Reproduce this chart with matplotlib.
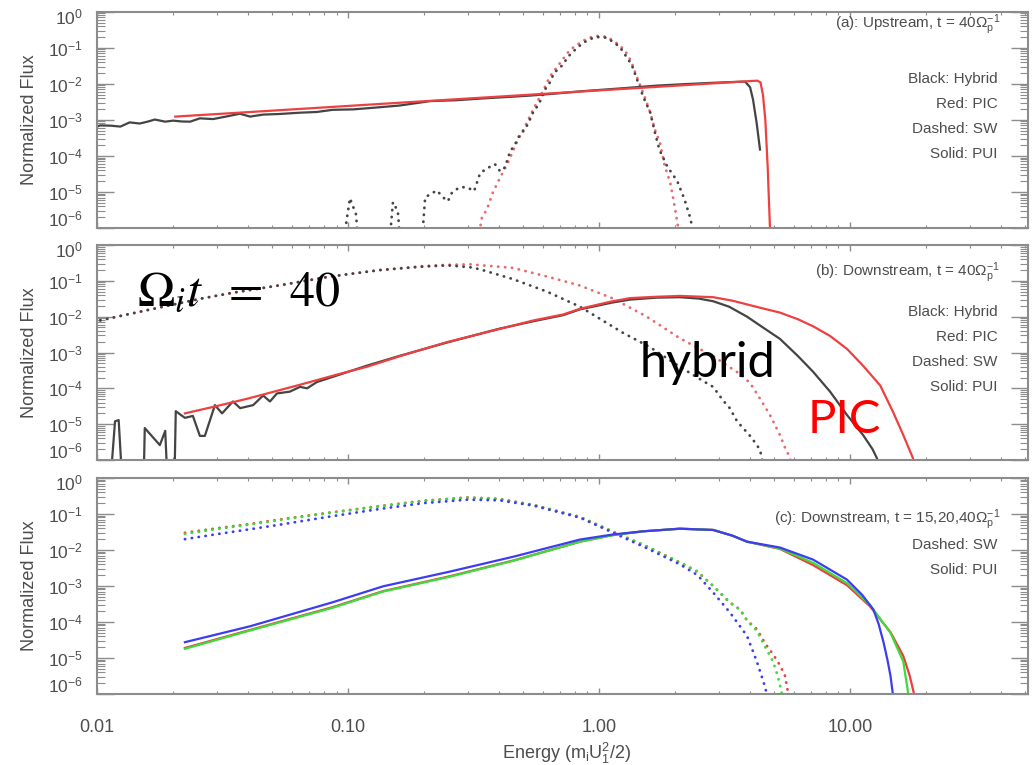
import numpy as np
import matplotlib
matplotlib.use("Agg")
import matplotlib.pyplot as plt
from matplotlib.ticker import LogLocator, FixedLocator, FuncFormatter, NullFormatter
from matplotlib.transforms import ScaledTranslation

plt.rcParams["font.family"] = ["Liberation Sans", "DejaVu Sans"]
plt.rcParams["mathtext.fontset"] = "custom"
plt.rcParams["mathtext.rm"] = "Liberation Sans"
plt.rcParams["mathtext.it"] = "Liberation Sans:italic"
plt.rcParams["mathtext.bf"] = "Liberation Sans:bold"

# =====================================================
# DATA
# =====================================================

# (a) upstream
a_hyb_pui_e = [0.0100, 0.0103, 0.0113, 0.0124, 0.0135, 0.0148, 0.0160, 0.0170, 0.0187,
               0.0201, 0.0218, 0.0235, 0.0257, 0.0290, 0.0330, 0.0371, 0.0407, 0.0460,
               0.0530, 0.0644, 0.0750, 0.0871, 0.105, 0.130, 0.161, 0.212, 0.270, 0.340,
               0.430, 0.531, 0.680, 0.850, 1.05, 1.33, 1.70, 2.20, 2.80, 3.40, 3.82,
               4.00, 4.11, 4.25, 4.38]
a_hyb_pui_f = [6.5e-4, 7.0e-4, 6.9e-4, 6.5e-4, 8.5e-4, 7.9e-4, 9.0e-4, 1.02e-3, 8.9e-4,
               9.5e-4, 9.0e-4, 8.9e-4, 1.10e-3, 1.05e-3, 1.25e-3, 1.48e-3, 1.23e-3, 1.40e-3,
               1.45e-3, 1.58e-3, 1.65e-3, 1.90e-3, 1.95e-3, 2.20e-3, 2.50e-3, 3.30e-3,
               3.50e-3, 3.90e-3, 4.30e-3, 4.70e-3, 5.40e-3, 6.20e-3, 6.90e-3, 7.80e-3,
               8.90e-3, 9.80e-3, 1.06e-2, 1.12e-2, 1.15e-2, 8.0e-3, 3.6e-3, 8.0e-4, 1.5e-4]

a_pic_pui_e = [0.0205, 0.05, 0.1, 0.3, 1.0, 2.5, 4.0, 4.27, 4.40, 4.50, 4.60, 4.70, 4.80, 4.85]
a_pic_pui_f = [1.23e-3, 1.80e-3, 2.43e-3, 3.90e-3, 6.55e-3, 9.70e-3, 1.19e-2, 1.22e-2,
               1.1e-2, 5.0e-3, 1.0e-3, 5.0e-5, 1.0e-6, 1.0e-8]

a_pic_sw_e = [0.330, 0.342, 0.358, 0.378, 0.396, 0.434, 0.471, 0.507, 0.546, 0.593, 0.638,
              0.700, 0.766, 0.840, 0.904, 0.982, 1.077, 1.158, 1.236, 1.306, 1.35, 1.43,
              1.52, 1.60, 1.67, 1.75, 1.83, 1.92, 1.99, 2.05, 2.10]
a_pic_sw_f = [5e-7, 2.0e-6, 3.3e-6, 9.8e-6, 1.9e-5, 6.6e-5, 2.4e-4, 6.5e-4, 1.9e-3, 5.6e-3,
              1.6e-2, 3.8e-2, 8.7e-2, 0.137, 0.187, 0.213, 0.20, 0.146, 0.10, 0.063, 0.038,
              0.013, 4.4e-3, 1.6e-3, 5.4e-4, 2.3e-4, 5.1e-5, 1.9e-5, 5.1e-6, 1.5e-6, 5e-7]

a_hyb_sw_e = [0.093, 0.1018, 0.1076, 0.1117, 0.144, 0.151, 0.158, 0.164, 0.194, 0.203, 0.226,
              0.239, 0.250, 0.260, 0.279, 0.298, 0.318, 0.336, 0.358, 0.385, 0.404, 0.422,
              0.442, 0.463, 0.484, 0.507, 0.526, 0.546, 0.566, 0.587, 0.609, 0.638, 0.662,
              0.719, 0.752, 0.802, 0.863, 0.964, 1.077, 1.21, 1.35, 1.50, 1.60, 1.67, 1.74,
              1.87, 2.05, 2.19, 2.30, 2.35, 2.40]
a_hyb_sw_f = [1e-7, 6.7e-6, 2.4e-6, 1e-7, 1e-7, 5.2e-6, 2.9e-6, 1e-7, 1e-7, 7.1e-6, 1.1e-5,
              7.1e-6, 5.5e-6, 9.8e-6, 1.35e-5, 1.35e-5, 1.05e-5, 3.3e-5, 4.5e-5, 5.9e-5,
              3.7e-5, 4.8e-5, 1.3e-4, 2.1e-4, 3.9e-4, 5.4e-4, 8.9e-4, 1.6e-3, 2.3e-3, 3.6e-3,
              6.9e-3, 1.1e-2, 2.0e-2, 3.4e-2, 5.6e-2, 8.7e-2, 0.137, 0.20, 0.19, 0.106, 0.034,
              4.4e-3, 1.6e-3, 4.5e-4, 1.5e-4, 5.1e-5, 2.0e-5, 6.3e-6, 2.1e-6, 1.1e-6, 5e-7]

# (b) downstream, t = 40
b_hyb_pui_e = [0.0112, 0.0118, 0.0122, 0.0127, 0.0153, 0.0155, 0.0178, 0.0187, 0.0192,
               0.0203, 0.0206, 0.0224, 0.0241, 0.0257, 0.0269, 0.0295, 0.0315, 0.0348,
               0.0372, 0.0419, 0.0459, 0.0489, 0.0521, 0.0587, 0.0644, 0.0687, 0.0752,
               0.0871, 0.119, 0.161, 0.248, 0.400, 0.550, 0.719, 0.840, 1.137, 1.33, 1.70,
               2.10, 2.50, 2.85, 3.30, 3.89, 4.50, 5.26, 6.20, 7.13, 8.33, 9.73, 11.27,
               12.3, 12.82, 13.2]
b_hyb_pui_f = [1e-7, 1.2e-5, 1.3e-5, 1e-7, 1e-7, 7.8e-6, 2.6e-6, 6.5e-6, 1e-7, 1e-7, 2.3e-5,
               1.5e-5, 1.7e-5, 4.7e-6, 4.7e-6, 3.4e-5, 2.0e-5, 4.3e-5, 2.8e-5, 3.4e-5, 6.3e-5,
               4.3e-5, 7.2e-5, 8.1e-5, 1.1e-4, 1.0e-4, 1.5e-4, 2.1e-4, 4.3e-4, 8.1e-4, 1.9e-3,
               4.6e-3, 7.5e-3, 1.1e-2, 1.6e-2, 2.5e-2, 3.0e-2, 3.4e-2, 3.5e-2, 3.2e-2, 2.7e-2,
               1.9e-2, 1.0e-2, 5.0e-3, 2.4e-3, 8.0e-4, 2.9e-4, 8.1e-5, 1.8e-5, 5.0e-6, 2.0e-6,
               1.1e-6, 3e-7]

b_pic_pui_e = [0.0224, 0.030, 0.040, 0.0644, 0.090, 0.119, 0.161, 0.248, 0.400, 0.550,
               0.719, 0.840, 1.106, 1.33, 1.70, 2.10, 2.85, 3.40, 3.89, 4.50, 5.26, 6.20,
               7.13, 8.33, 9.73, 11.27, 13.2, 14.8, 16.3, 17.8, 18.2]
b_pic_pui_f = [2.0e-5, 3.2e-5, 5.2e-5, 1.26e-4, 2.4e-4, 4.0e-4, 7.9e-4, 1.95e-3, 4.5e-3,
               7.9e-3, 1.15e-2, 1.66e-2, 2.6e-2, 3.3e-2, 3.6e-2, 3.8e-2, 3.5e-2, 2.8e-2,
               2.2e-2, 1.7e-2, 1.3e-2, 8.5e-3, 5.4e-3, 2.9e-3, 1.26e-3, 4.3e-4, 1.2e-4,
               2.3e-5, 5.0e-6, 1.15e-6, 1e-7]

b_hyb_sw_e = [0.0103, 0.014, 0.019, 0.026, 0.035, 0.054, 0.085, 0.134, 0.200, 0.250, 0.306,
              0.336, 0.454, 0.621, 0.840, 1.25, 1.60, 2.10, 2.60, 2.85, 3.12, 3.32, 3.55,
              3.75, 4.00, 4.26, 4.38, 4.46, 4.52]
b_hyb_sw_f = [7.9e-3, 1.26e-2, 2.0e-2, 3.2e-2, 4.7e-2, 7.6e-2, 0.132, 0.20, 0.25, 0.27, 0.24,
              0.21, 0.112, 0.050, 1.9e-2, 3.5e-3, 1.4e-3, 4.0e-4, 1.6e-4, 1.1e-4, 4.6e-5,
              2.8e-5, 1.2e-5, 7.8e-6, 4.7e-6, 2.6e-6, 1.9e-6, 1.1e-6, 3e-7]

b_pic_sw_e = [0.0103, 0.014, 0.019, 0.026, 0.035, 0.054, 0.085, 0.134, 0.200, 0.250, 0.306,
              0.454, 0.621, 0.840, 1.14, 1.55, 2.10, 2.85, 3.65, 4.00, 4.38, 4.80, 5.26,
              5.51, 5.77, 5.95]
b_pic_sw_f = [7.9e-3, 1.26e-2, 2.0e-2, 3.2e-2, 4.7e-2, 7.6e-2, 0.132, 0.20, 0.26, 0.28, 0.29,
              0.23, 0.132, 7.4e-2, 3.2e-2, 1.0e-2, 2.5e-3, 7.9e-4, 2.5e-4, 1.4e-4, 5.2e-5,
              1.8e-5, 5.0e-6, 2.2e-6, 1.15e-6, 2.5e-7]

# (c) downstream, t = 15, 20, 40
c_times = ["15", "20", "40"]
c_colors = ["#f03c3c", "#3cdc3c", "#3c3cf0"]

c_pui_e = [
    [0.0224, 0.0407, 0.0871, 0.138, 0.254, 0.46, 0.84, 1.14, 1.50, 2.10, 2.85, 3.40, 3.89,
     5.26, 7.13, 9.73, 12.0, 14.5, 16.3, 17.3, 18.0, 18.4],
    [0.0224, 0.0407, 0.0871, 0.138, 0.254, 0.46, 0.84, 1.14, 1.50, 2.10, 2.85, 3.40, 3.89,
     5.26, 7.13, 9.73, 12.0, 14.5, 16.3, 16.9, 17.3, 17.6],
    [0.0224, 0.0407, 0.0871, 0.138, 0.254, 0.46, 0.84, 1.14, 1.50, 2.10, 2.85, 3.40, 3.89,
     5.26, 7.13, 9.73, 11.2, 12.4, 13.0, 13.6, 14.1, 14.5, 14.8, 15.0],
]
c_pui_f = [
    [1.9e-5, 6.0e-5, 2.6e-4, 7.2e-4, 1.86e-3, 5.2e-3, 1.7e-2, 2.6e-2, 3.3e-2, 3.9e-2, 3.6e-2,
     2.5e-2, 1.7e-2, 1.07e-2, 3.8e-3, 1.05e-3, 2.75e-4, 5.2e-5, 1.15e-5, 3.2e-6, 1.0e-6, 2.5e-7],
    [1.8e-5, 5.8e-5, 2.5e-4, 7.0e-4, 1.8e-3, 5.1e-3, 1.7e-2, 2.6e-2, 3.3e-2, 3.9e-2, 3.6e-2,
     2.5e-2, 1.7e-2, 1.1e-2, 4.4e-3, 1.2e-3, 3.0e-4, 5.0e-5, 8.0e-6, 1.6e-6, 5e-7, 1e-7],
    [2.75e-5, 7.6e-5, 3.55e-4, 9.8e-4, 2.5e-3, 6.6e-3, 1.95e-2, 2.7e-2, 3.3e-2, 3.9e-2, 3.6e-2,
     2.5e-2, 1.7e-2, 1.17e-2, 5.4e-3, 1.5e-3, 5.6e-4, 2.2e-4, 8.9e-5, 2.75e-5, 8.9e-6, 3.2e-6,
     1.07e-6, 3e-7],
]

c_sw_e = [
    [0.0224, 0.030, 0.040, 0.054, 0.085, 0.134, 0.20, 0.30, 0.40, 0.55, 0.84, 1.14, 1.55,
     2.10, 2.47, 2.85, 3.32, 3.65, 3.89, 4.26, 4.60, 4.94, 5.26, 5.51, 5.66, 5.80],
    [0.0224, 0.030, 0.040, 0.054, 0.085, 0.134, 0.20, 0.30, 0.40, 0.55, 0.84, 1.14, 1.55,
     2.10, 2.47, 2.85, 3.32, 3.65, 3.89, 4.26, 4.60, 4.94, 5.15, 5.34, 5.45],
    [0.0224, 0.030, 0.040, 0.054, 0.085, 0.134, 0.20, 0.30, 0.40, 0.55, 0.84, 1.14, 1.55,
     2.10, 2.47, 2.85, 3.32, 3.89, 4.26, 4.52, 4.64, 4.75],
]
c_sw_f = [
    [3.0e-2, 4.0e-2, 5.2e-2, 7.1e-2, 0.11, 0.166, 0.234, 0.288, 0.263, 0.178, 8.3e-2, 3.2e-2,
     1.26e-2, 4.5e-3, 2.5e-3, 1.0e-3, 3.5e-4, 2.2e-4, 1.1e-4, 6.3e-5, 2.5e-5, 1.26e-5, 6.3e-6,
     3.2e-6, 1.15e-6, 2.5e-7],
    [2.8e-2, 3.8e-2, 5.0e-2, 6.9e-2, 0.107, 0.162, 0.230, 0.285, 0.260, 0.176, 8.2e-2, 3.2e-2,
     1.26e-2, 4.5e-3, 2.5e-3, 1.0e-3, 3.5e-4, 2.2e-4, 1.1e-4, 5.6e-5, 2.0e-5, 7.9e-6, 3.2e-6,
     1.15e-6, 2.5e-7],
    [2.0e-2, 2.75e-2, 3.7e-2, 5.1e-2, 8.5e-2, 0.138, 0.20, 0.25, 0.24, 0.17, 7.9e-2, 3.0e-2,
     1.12e-2, 4.0e-3, 2.0e-3, 6.6e-4, 1.86e-4, 4.1e-5, 7.8e-6, 2.2e-6, 1.15e-6, 2.5e-7],
]

# =====================================================
# STYLE
# =====================================================

GRAY = "#4d4d4d"
AX_GRAY = "#8c8c8c"
HYB = "#444444"
PIC = "#ee4040"
PIC_DOT = "#e86a6a"
DOTS = (0, (0.1, 2.4))


def dotted(ax, e, f, color):

    ax.plot(
        e, f,
        color=color,
        lw=2.0,
        linestyle=DOTS,
        dash_capstyle="round"
    )


def style_axis(ax, show_xlabels):

    ax.set_xscale("log")
    ax.set_yscale("log")
    ax.set_xlim(0.01, 51.2)
    ax.set_ylim(1e-6, 1)

    ax.xaxis.set_major_locator(FixedLocator([0.01, 0.1, 1, 10]))
    ax.xaxis.set_minor_locator(LogLocator(base=10, subs=np.arange(2, 10), numticks=20))
    ax.yaxis.set_major_locator(LogLocator(base=10, numticks=10))
    ax.yaxis.set_minor_locator(LogLocator(base=10, subs=np.arange(2, 10), numticks=20))
    ax.xaxis.set_minor_formatter(NullFormatter())
    ax.yaxis.set_minor_formatter(NullFormatter())

    if show_xlabels:
        ax.xaxis.set_major_formatter(FuncFormatter(lambda v, p: f"{v:.2f}"))
    else:
        ax.xaxis.set_major_formatter(NullFormatter())

    ax.tick_params(which="both", direction="in", top=True, right=True,
                   color=AX_GRAY, labelcolor=GRAY)
    ax.tick_params(axis="y", which="major", length=12, width=1.0, labelsize=12.5, pad=10)
    ax.tick_params(axis="y", which="minor", length=6, width=0.8)
    ax.tick_params(axis="x", which="major", length=4, width=1.0, labelsize=13, pad=18)
    ax.tick_params(axis="x", which="minor", length=2.5, width=0.8)
    ax.tick_params(axis="x", labelbottom=show_xlabels)

    for sp in ax.spines.values():
        sp.set_color(AX_GRAY)
        sp.set_linewidth(1.5)

    ax.set_ylabel("Normalized Flux", fontsize=13, color=GRAY)
    ax.yaxis.set_label_coords(-0.063, 0.5)


def nudge_end_labels(ax):

    # the outermost decade labels sit just inside the frame, as in the original
    for tick in ax.yaxis.get_major_ticks():
        loc = tick.get_loc()
        if np.isclose(loc, 1.0):
            dy = -3 / 72
        elif np.isclose(loc, 1e-6):
            dy = 7 / 72
        else:
            continue
        lab = tick.label1
        lab.set_transform(lab.get_transform() + ScaledTranslation(0, dy, fig.dpi_scale_trans))


def notes(ax, title, title_y, lines):

    ax.text(0.970, title_y, title, transform=ax.transAxes,
            ha="right", va="center", fontsize=11, color=GRAY)

    for i, s in enumerate(lines):
        ax.text(0.967, 0.689 - 0.116 * i, s, transform=ax.transAxes,
                ha="right", va="center", fontsize=11, color=GRAY)


fig = plt.figure(figsize=(10.34, 7.65), dpi=100)

ax_a = fig.add_axes([0.0938, 0.7020, 0.9004, 0.2827])
ax_b = fig.add_axes([0.0938, 0.3987, 0.9004, 0.2810])
ax_c = fig.add_axes([0.0938, 0.0928, 0.9004, 0.2824])

# =====================================================
# (a) UPSTREAM
# =====================================================

dotted(ax_a, a_pic_sw_e, a_pic_sw_f, PIC_DOT)
dotted(ax_a, a_hyb_sw_e, a_hyb_sw_f, HYB)
ax_a.plot(a_hyb_pui_e, a_hyb_pui_f, color=HYB, lw=1.6)
ax_a.plot(a_pic_pui_e, a_pic_pui_f, color=PIC, lw=1.6)

style_axis(ax_a, False)
notes(ax_a, r"(a): Upstream, t = 40$\Omega_\mathregular{p}^{\mathregular{-1}}$", 0.938,
      ["Black: Hybrid", "Red: PIC", "Dashed: SW", "Solid: PUI"])

# =====================================================
# (b) DOWNSTREAM
# =====================================================

dotted(ax_b, b_pic_sw_e, b_pic_sw_f, PIC_DOT)
dotted(ax_b, b_hyb_sw_e, b_hyb_sw_f, HYB)
ax_b.plot(b_hyb_pui_e, b_hyb_pui_f, color=HYB, lw=1.6)
ax_b.plot(b_pic_pui_e, b_pic_pui_f, color=PIC, lw=1.6)

style_axis(ax_b, False)
notes(ax_b, r"(b): Downstream, t = 40$\Omega_\mathregular{p}^{\mathregular{-1}}$", 0.870,
      ["Black: Hybrid", "Red: PIC", "Dashed: SW", "Solid: PUI"])

ax_b.text(0.043, 0.721, r"$\Omega_i t\;\;=\;\;40$", transform=ax_b.transAxes,
          ha="left", va="baseline", fontsize=36, color="black", math_fontfamily="stix")
ax_b.text(0.583, 0.386, "hybrid", transform=ax_b.transAxes,
          ha="left", va="baseline", fontsize=35, color="black", family="Lato")
ax_b.text(0.763, 0.126, "PIC", transform=ax_b.transAxes,
          ha="left", va="baseline", fontsize=34, color="#ff0000", family="Lato")

# =====================================================
# (c) DOWNSTREAM, SEVERAL TIMES
# =====================================================

for e, f, col in zip(c_sw_e, c_sw_f, c_colors):
    dotted(ax_c, e, f, col)

for e, f, col in zip(c_pui_e, c_pui_f, c_colors):
    ax_c.plot(e, f, color=col, lw=1.6)

style_axis(ax_c, True)
notes(ax_c, r"(c): Downstream, t = 15,20,40$\Omega_\mathregular{p}^{\mathregular{-1}}$", 0.806,
      ["Dashed: SW", "Solid: PUI"])

fig.text(567 / 1034, 1 - 753 / 765, r"Energy (m$_\mathregular{i}$U$_\mathregular{1}^\mathregular{2}$/2)",
         ha="center", va="center", fontsize=13, color=GRAY)

fig.canvas.draw()
for ax in (ax_a, ax_b, ax_c):
    nudge_end_labels(ax)

fig.savefig("out.png", dpi=100)
plt.close(fig)
